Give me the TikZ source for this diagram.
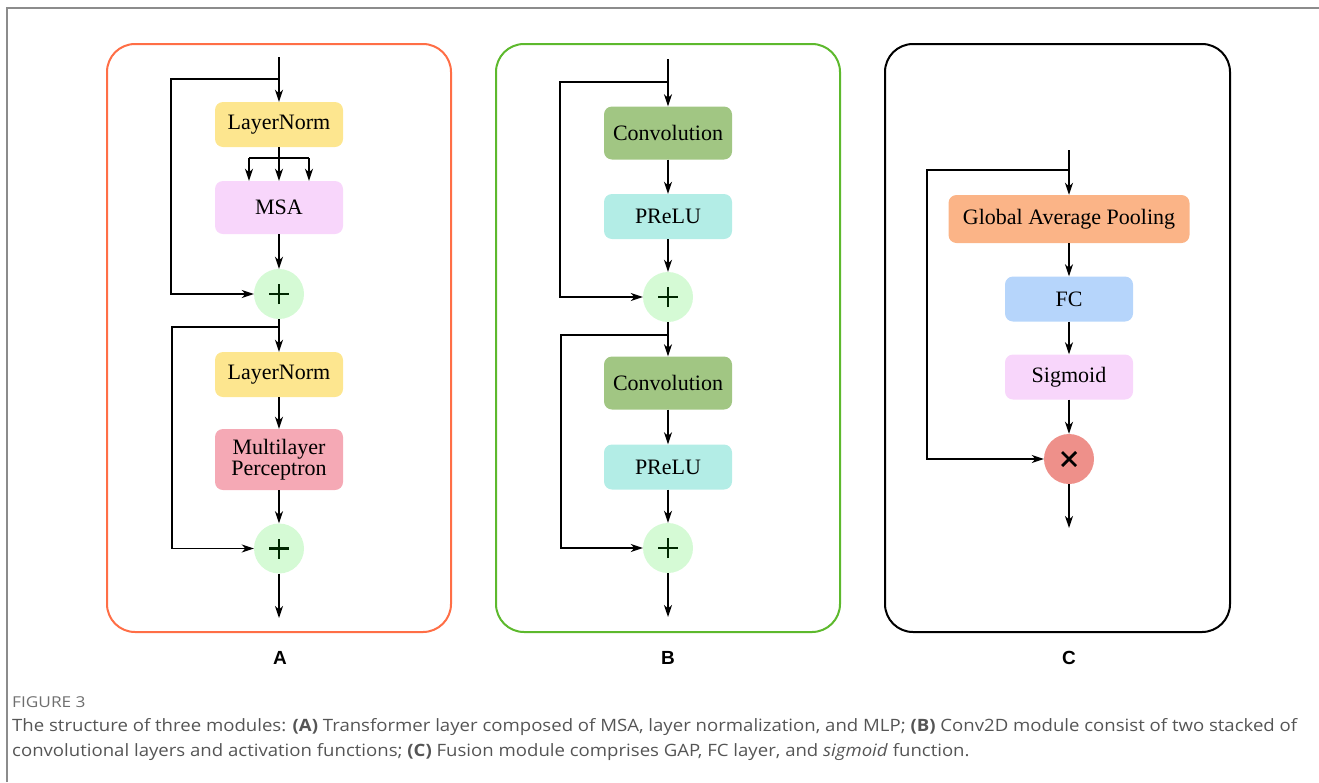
\documentclass[tikz,border=0pt]{standalone}
\usepackage{fontspec}
\setmainfont{Liberation Serif}
\newfontfamily\capfont{Open Sans}
\newfontfamily\labfont{Liberation Sans}
\usetikzlibrary{arrows.meta}
\definecolor{panA}{RGB}{255,110,70}
\definecolor{panB}{RGB}{93,185,45}
\definecolor{lnY}{RGB}{253,230,143}
\definecolor{msaP}{RGB}{248,214,251}
\definecolor{plusG}{RGB}{213,250,213}
\definecolor{mlpR}{RGB}{245,169,181}
\definecolor{convG}{RGB}{161,198,131}
\definecolor{preC}{RGB}{179,237,230}
\definecolor{gapO}{RGB}{251,180,135}
\definecolor{fcB}{RGB}{182,213,251}
\definecolor{mulR}{RGB}{238,144,138}
\definecolor{capGray}{RGB}{85,85,85}
\definecolor{figGray}{RGB}{110,110,110}
\definecolor{frameGray}{RGB}{140,140,140}
\tikzset{
  panel/.style={draw, line width=2pt, rounded corners=28pt},
  blk/.style={rectangle, rounded corners=8pt, draw=none, minimum width=128pt, inner sep=2pt,
    font=\fontsize{22}{22}\selectfont, align=center, text=black},
  opnode/.style={circle, draw=none, minimum size=50pt, inner sep=0pt},
  conn/.style={line width=1.5pt, draw=black},
  arr/.style={conn, -{Stealth[length=12pt,width=8pt,inset=3.5pt]}},
  sublab/.style={font=\labfont\bfseries\fontsize{19}{20}\selectfont},
  opsym/.style={line width=2.8pt},
}
\begin{document}
\begin{tikzpicture}[x=1pt,y=-1pt]
\useasboundingbox (0,0) rectangle (1319,782);
% outer frame
\draw[frameGray, line width=1.5pt] (7,782) -- (7,8) -- (1319,8);
% panels
\draw[panel, panA] (107,44) rectangle (451,632);
\draw[panel, panB] (496,44) rectangle (840,632);
\draw[panel, black] (885,44) rectangle (1230,632);

% ---------- Panel A ----------
\coordinate (a0) at (279,57);
\coordinate (as1) at (279,79);
\coordinate (ak1) at (171,79);
\node[blk, fill=lnY, minimum height=45pt] (aln1) at (279,124.5) {LayerNorm};
\coordinate (ab) at (279,158);
\coordinate (abl) at (249,158);
\coordinate (abr) at (309,158);
\node[blk, fill=msaP, minimum height=53pt] (amsa) at (279,207.5) {MSA};
\node[opnode, fill=plusG] (ap1) at (279,294) {};
\coordinate (as2) at (279,327);
\coordinate (ak2) at (172,327);
\node[blk, fill=lnY, minimum height=45pt] (aln2) at (279,374.5) {LayerNorm};
\node[blk, fill=mlpR, minimum height=61pt, font=\fontsize{22}{21}\selectfont] (amlp) at (279,459.5) {Multilayer\\Perceptron};
\node[opnode, fill=plusG] (ap2) at (279,548.5) {};
\coordinate (aout) at (279,618);

\draw[arr] (a0) -- (aln1.north);
\draw[arr] (as1) -- (ak1) |- (ap1.west);
\draw[conn] (aln1.south) -- (ab);
\draw[conn] (abl) -- (abr);
\draw[arr] (abl) -- (abl |- amsa.north);
\draw[arr] (ab) -- (amsa.north);
\draw[arr] (abr) -- (abr |- amsa.north);
\draw[arr] (amsa.south) -- (ap1.north);
\draw[arr] (ap1.south) -- (aln2.north);
\draw[arr] (as2) -- (ak2) |- (ap2.west);
\draw[arr] (aln2.south) -- (amlp.north);
\draw[arr] (amlp.south) -- (ap2.north);
\draw[arr] (ap2.south) -- (aout);

% ---------- Panel B ----------
\coordinate (b0) at (668,59);
\coordinate (bs1) at (668,82);
\coordinate (bk1) at (560,82);
\node[blk, fill=convG, minimum height=53pt] (bc1) at (668,133) {Convolution};
\node[blk, fill=preC, minimum height=45pt] (bp1) at (668,216.5) {PReLU};
\node[opnode, fill=plusG] (bo1) at (668,297) {};
\coordinate (bs2) at (668,335);
\coordinate (bk2) at (561,335);
\node[blk, fill=convG, minimum height=53pt] (bc2) at (668,383) {Convolution};
\node[blk, fill=preC, minimum height=45pt] (bp2) at (668,467) {PReLU};
\node[opnode, fill=plusG] (bo2) at (668,548) {};
\coordinate (bout) at (668,617);

\draw[arr] (b0) -- (bc1.north);
\draw[arr] (bs1) -- (bk1) |- (bo1.west);
\draw[arr] (bc1.south) -- (bp1.north);
\draw[arr] (bp1.south) -- (bo1.north);
\draw[arr] (bo1.south) -- (bc2.north);
\draw[arr] (bs2) -- (bk2) |- (bo2.west);
\draw[arr] (bc2.south) -- (bp2.north);
\draw[arr] (bp2.south) -- (bo2.north);
\draw[arr] (bo2.south) -- (bout);

% ---------- Panel C ----------
\coordinate (c0) at (1069,150);
\coordinate (cs1) at (1069,170);
\coordinate (ck1) at (927,170);
\node[blk, fill=gapO, minimum width=241pt, minimum height=48pt] (cgap) at (1069,219) {Global Average Pooling};
\node[blk, fill=fcB, minimum height=45pt] (cfc) at (1069,299) {FC};
\node[blk, fill=msaP, minimum height=45pt] (csig) at (1069,377) {Sigmoid};
\node[opnode, fill=mulR] (cm) at (1069,459) {};
\coordinate (cout) at (1069,528);

\draw[arr] (c0) -- (cgap.north);
\draw[arr] (cs1) -- (ck1) |- (cm.west);
\draw[arr] (cgap.south) -- (cfc.north);
\draw[arr] (cfc.south) -- (csig.north);
\draw[arr] (csig.south) -- (cm.north);
\draw[arr] (cm.south) -- (cout);

% operator symbols
\foreach \n in {ap1,ap2,bo1,bo2}{
  \draw[opsym, black!85!green] ([xshift=-10pt]\n.center) -- ([xshift=10pt]\n.center);
  \draw[opsym, black!85!green] ([yshift=-10pt]\n.center) -- ([yshift=10pt]\n.center);
}
\draw[opsym, black] ([xshift=-7pt,yshift=-7pt]cm.center) -- ([xshift=7pt,yshift=7pt]cm.center);
\draw[opsym, black] ([xshift=-7pt,yshift=7pt]cm.center) -- ([xshift=7pt,yshift=-7pt]cm.center);

% sub labels
\node[sublab] (labA) at (280,658) {A};
\node[sublab] (labB) at (668,658) {B};
\node[sublab] (labC) at (1069,658) {C};

% caption
\node[anchor=base west, inner sep=0pt, text=figGray, font=\capfont\fontsize{15}{16}\selectfont] (fig) at (12,707) {\scalebox{1.15}[1]{FIGURE 3}};
\node[anchor=base west, inner sep=0pt, text=capGray, font=\capfont\fontsize{17}{18}\selectfont] (cap1) at (12,731) {\scalebox{1.093}[1]{The structure of three modules: \textbf{(A)} Transformer layer composed of MSA, layer normalization, and MLP; \textbf{(B)} Conv2D module consist of two stacked of}};
\node[anchor=base west, inner sep=0pt, text=capGray, font=\capfont\fontsize{17}{18}\selectfont] (cap2) at (12,756) {\scalebox{1.093}[1]{convolutional layers and activation functions; \textbf{(C)} Fusion module comprises GAP, FC layer, and \textit{sigmoid} function.}};
\end{tikzpicture}
\end{document}
